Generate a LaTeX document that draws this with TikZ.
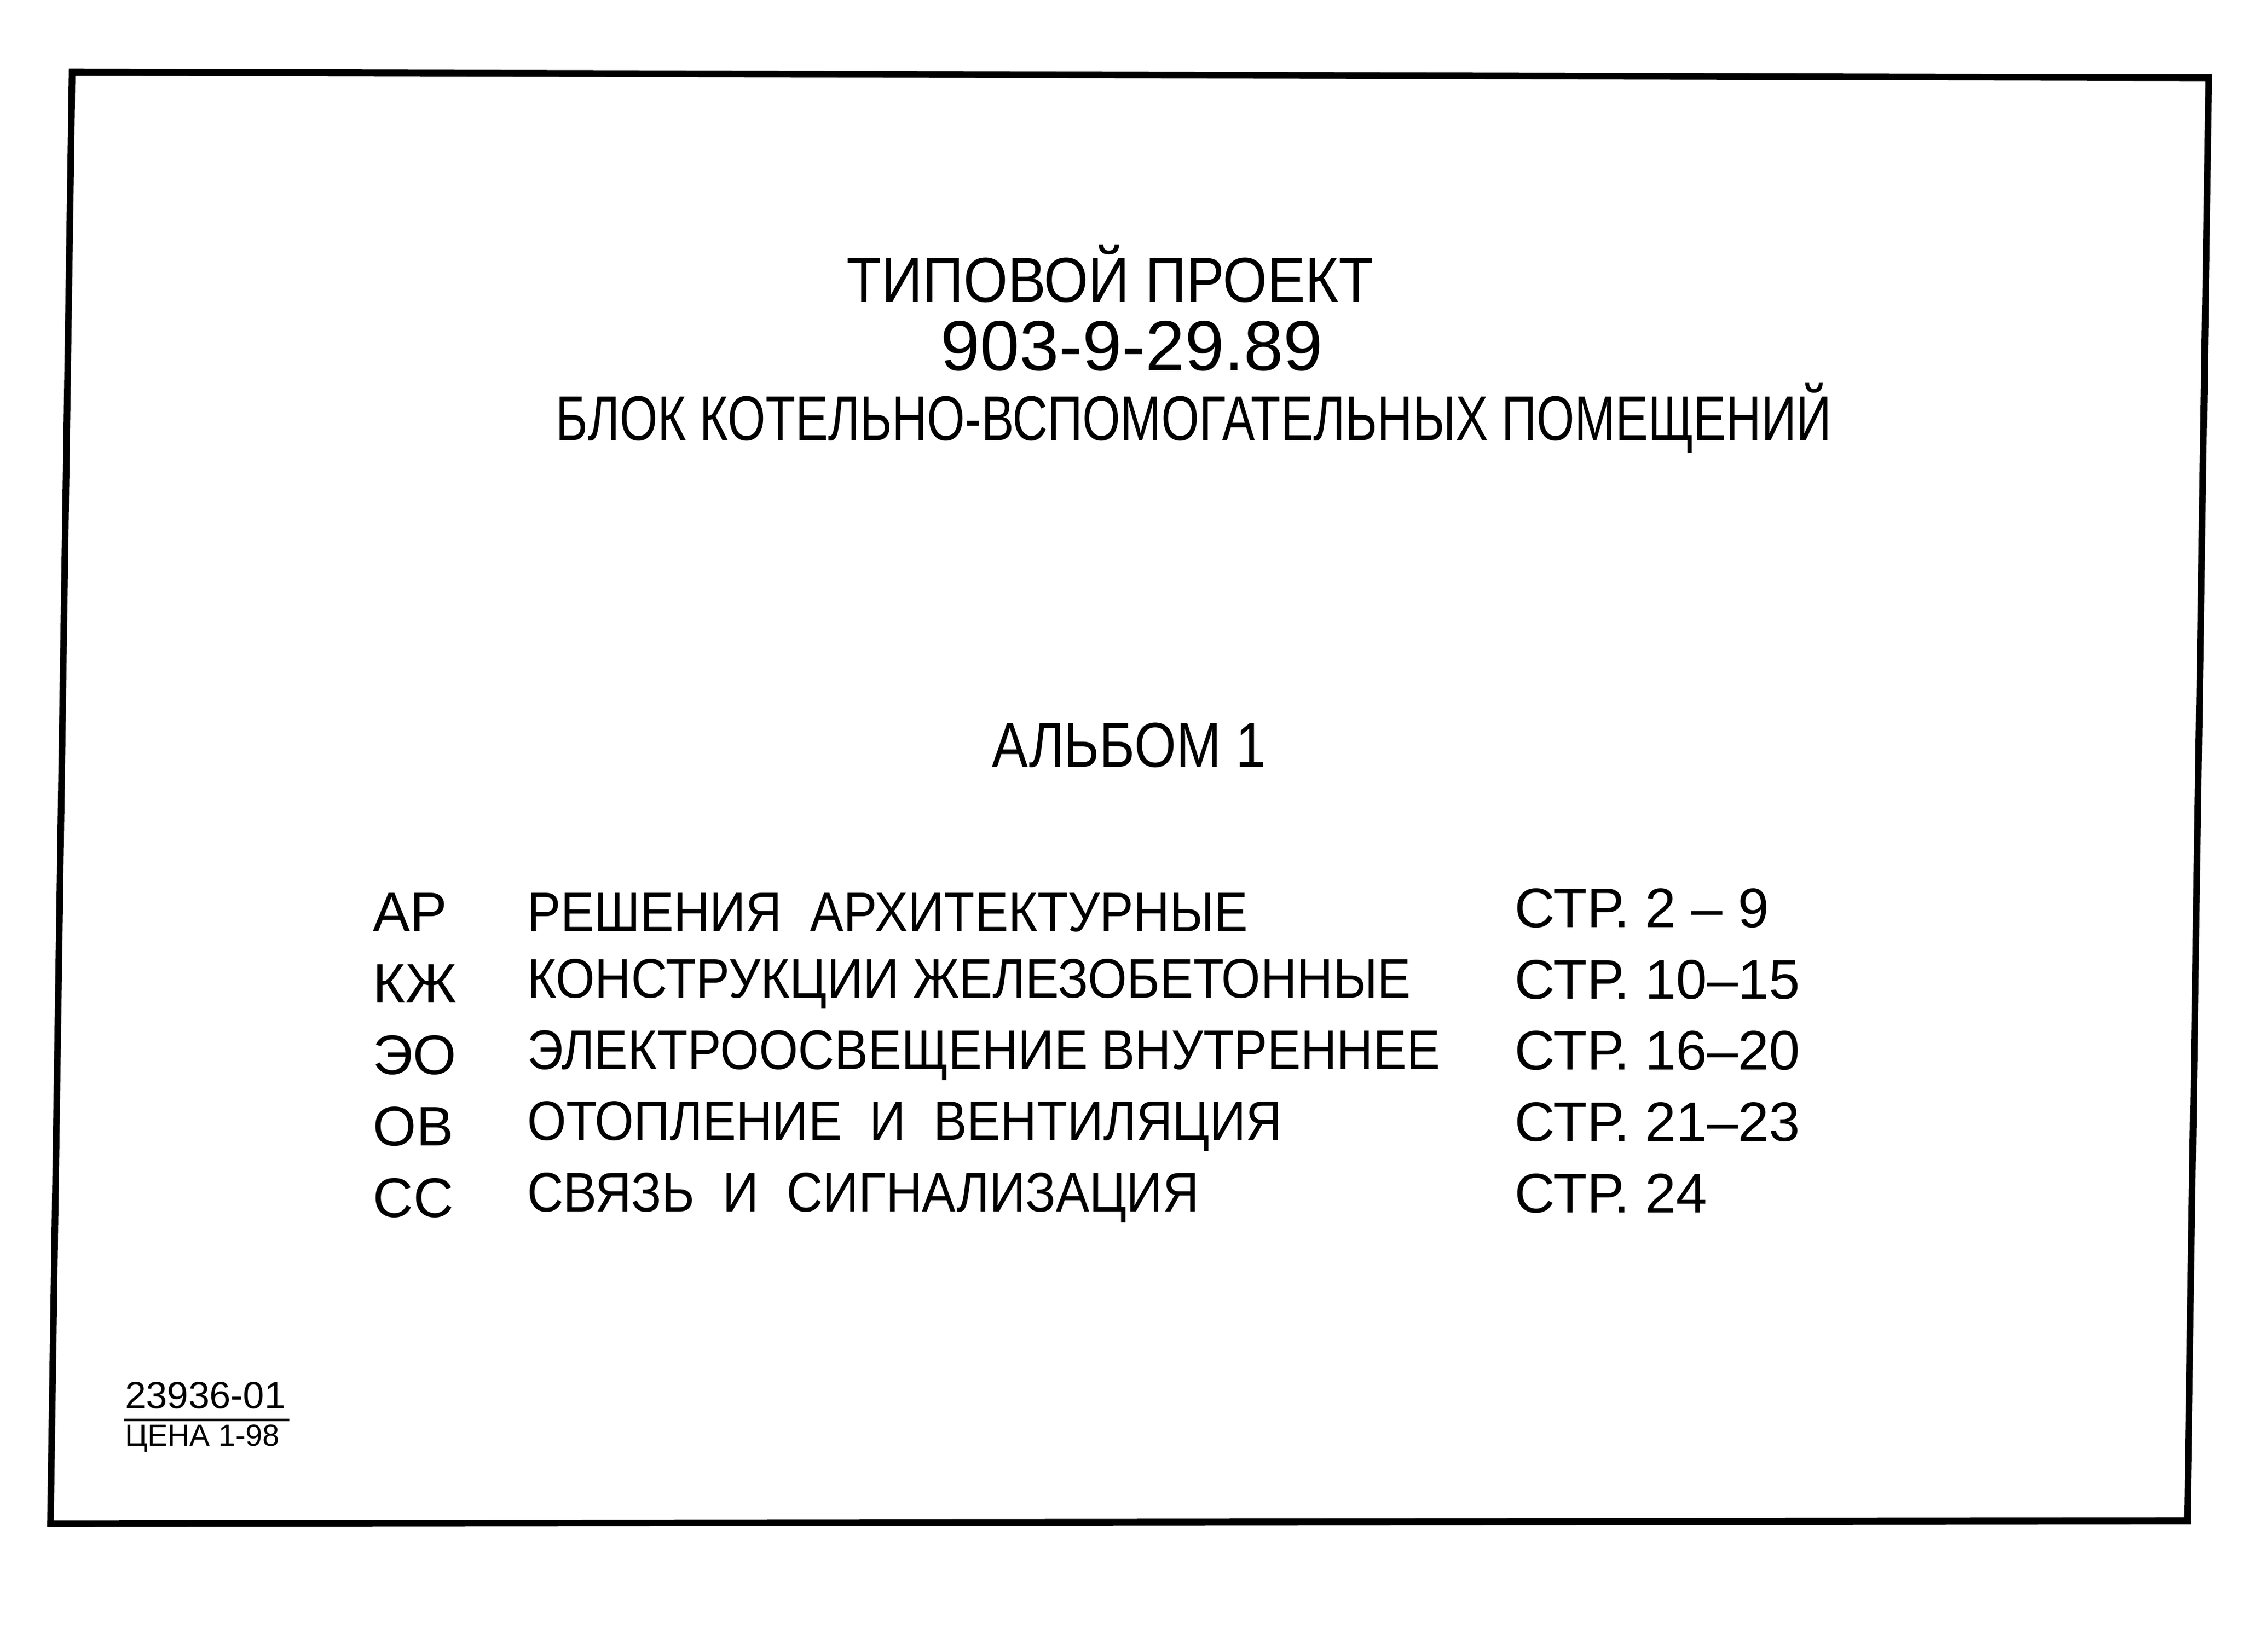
\documentclass[tikz,border=0pt]{standalone}
\usepackage{fontspec}
\setmainfont{Liberation Sans}
\usetikzlibrary{calc}
\newcommand{\narrow}[2]{\scalebox{#1}[1]{#2}}
\begin{document}
\begin{tikzpicture}
    \tikzset{
      title/.style={inner sep=0pt, font=\fontsize{12.5}{15}\selectfont},
      row/.style={anchor=west, inner sep=0pt, font=\fontsize{11}{13}\selectfont},
      small/.style={anchor=west, inner sep=0pt, font=\fontsize{7.5}{9}\selectfont}
    }
    \useasboundingbox (0,0) rectangle (15.55,-11.46);
    % frame
    \coordinate (tl) at (0.50,-0.50);
    \coordinate (tr) at (15.32,-0.54);
    \coordinate (br) at (15.17,-10.55);
    \coordinate (bl) at (0.35,-10.57);
    \draw[line width=1.3pt] (tl) -- (tr) -- (br) -- (bl) -- cycle;

    % heading
    \node[title] (type) at (7.70,-1.90) {\narrow{0.9}{ТИПОВОЙ ПРОЕКТ}};
    \node[title, font=\fontsize{14}{16}\selectfont] (num) at (7.85,-2.40) {903-9-29.89};
    \node[title] (block) at (8.28,-2.90) {\narrow{0.77}{БЛОК КОТЕЛЬНО-ВСПОМОГАТЕЛЬНЫХ ПОМЕЩЕНИЙ}};
    \node[title] (album) at (7.83,-5.17) {\narrow{0.85}{АЛЬБОМ 1}};

    % contents
    \foreach \code/\name/\page [count=\i] in {
        АР/РЕШЕНИЯ\ \ АРХИТЕКТУРНЫЕ/СТР. 2 -- 9,
        КЖ/КОНСТРУКЦИИ ЖЕЛЕЗОБЕТОННЫЕ/СТР. 10--15,
        ЭО/ЭЛЕКТРООСВЕЩЕНИЕ ВНУТРЕННЕЕ/СТР. 16--20,
        ОВ/ОТОПЛЕНИЕ\ \ И\ \ ВЕНТИЛЯЦИЯ/СТР. 21--23,
        СС/СВЯЗЬ\ \ И\ \ СИГНАЛИЗАЦИЯ/СТР. 24} {
      \node[row] (code\i) at (2.58,{-6.33-0.495*(\i-1)}) {\code};
      \node[row] (name\i) at (3.65,{-6.33-0.495*(\i-1)}) {\narrow{0.9}{\name}};
      \node[row] (page\i) at (10.50,{-6.30-0.495*(\i-1)}) {\page};
    }

    % price stamp
    \node[small] (stamp) at (0.86,-9.68) {23936-01};
    \node[small, font=\fontsize{6}{7}\selectfont] (price) at (0.86,-9.98) {ЦЕНА 1-98};
    \draw[line width=0.5pt] ($(stamp.south west)+(0,-0.07)$) -- ($(stamp.south east)+(0.02,-0.07)$);
  \end{tikzpicture}
\end{document}
